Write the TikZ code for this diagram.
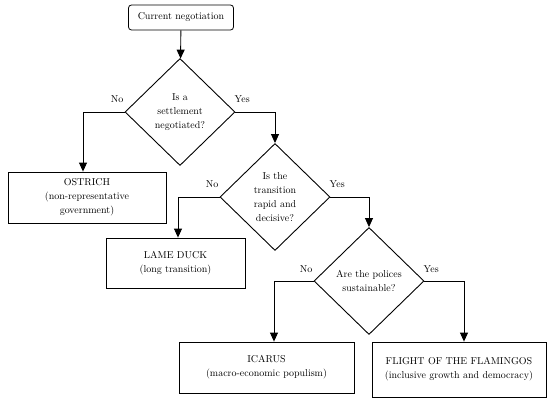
\documentclass[tikz,border=0pt]{standalone}
\usepackage{tikz}
\usetikzlibrary{arrows.meta,positioning,shapes.geometric}

\begin{document}
\begin{tikzpicture}[
  x=1pt,y=-1pt,
  txt/.style={font=\fontsize{10}{14}\selectfont,align=center},
  start/.style={draw,rounded corners=3pt,txt,line width=0.8pt,minimum width=105pt,minimum height=25pt},
  quest/.style={draw,diamond,txt,line width=0.9pt,inner sep=0pt,minimum width=110pt,minimum height=107pt},
  outcome/.style={draw,rectangle,txt,line width=0.8pt,minimum height=51pt},
  lbl/.style={font=\fontsize{10}{12}\selectfont,inner sep=1pt},
  arr/.style={-{Triangle[length=9pt,width=8pt]},line width=0.9pt}
]
\useasboundingbox (0,0) rectangle (550,404);
\node[start] (cur) at (181,17.5) {Current negotiation};
\node[quest] (d1) at (180,112) {Is a\\settlement\\negotiated?};
\node[outcome,minimum width=158pt] (ostrich) at (87,197.5) {OSTRICH\\(non-representative\\government)};
\node[quest] (d2) at (275,197) {Is the\\transition\\rapid and\\decisive?};
\node[outcome,minimum width=139pt,minimum height=50pt] (duck) at (175.5,263) {LAME DUCK\\(long transition)};
\node[quest] (d3) at (369,281) {Are the polices\\sustainable?};
\node[outcome,minimum width=175pt] (icarus) at (266.5,367.5) {ICARUS\\(macro-economic populism)};
\node[outcome,minimum width=174pt,minimum height=55pt] (flam) at (459,369.5) {FLIGHT OF THE FLAMINGOS\\(inclusive growth and democracy)};
% branch labels
\node[lbl,above left=8pt and 0pt of d1.west] (n1) {No};
\node[lbl,above right=8pt and -2pt of d1.east] (y1) {Yes};
\node[lbl,above left=8pt and 0pt of d2.west] (n2) {No};
\node[lbl,above right=8pt and -2pt of d2.east] (y2) {Yes};
\node[lbl,above left=7pt and 0pt of d3.west] (n3) {No};
\node[lbl,above right=7pt and -2pt of d3.east] (y3) {Yes};
% connectors
\draw[arr] (cur)--(d1);
\draw[arr] (d1.west) -| ([xshift=-4pt]ostrich.north);
\draw[arr] (d1.east) -| (d2.north);
\draw[arr] (d2.west) -| ([xshift=2.5pt]duck.north);
\draw[arr] (d2.east) -| (d3.north);
\draw[arr] (d3.west) -| ([xshift=7.5pt]icarus.north);
\draw[arr] (d3.east) -| ([xshift=5pt]flam.north);
\end{tikzpicture}
\end{document}
